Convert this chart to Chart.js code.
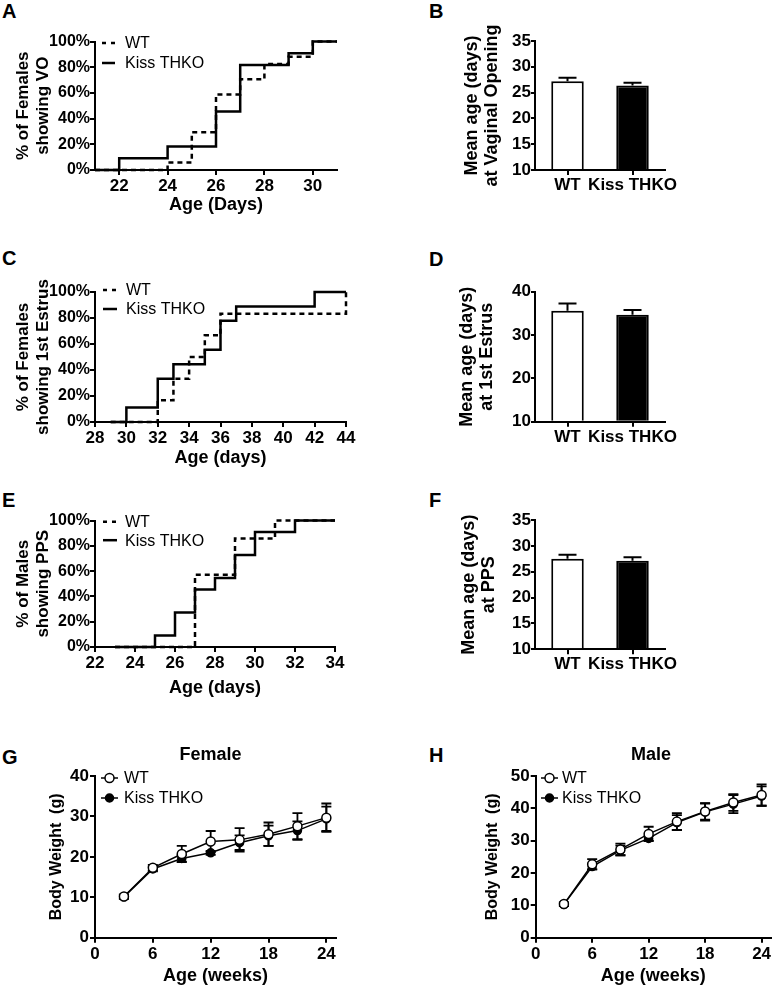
<!DOCTYPE html>
<html><head><meta charset="utf-8">
<script src="https://cdn.jsdelivr.net/npm/chart.js@4"></script>
<style>
html,body{margin:0;padding:0;background:#fff;width:777px;height:987px;overflow:hidden;position:relative;}
canvas{position:absolute;left:0;top:0;}
.lt{position:absolute;font:bold 20px 'Liberation Sans',Arial,sans-serif;line-height:20px;color:#000;}
</style></head><body>
<div class="lt" style="left:2px;top:1px">A</div>
<div class="lt" style="left:429px;top:1px">B</div>
<div class="lt" style="left:2px;top:248px">C</div>
<div class="lt" style="left:429px;top:249px">D</div>
<div class="lt" style="left:2px;top:490px">E</div>
<div class="lt" style="left:429px;top:490px">F</div>
<div class="lt" style="left:2px;top:747px">G</div>
<div class="lt" style="left:429px;top:745px">H</div>
<canvas id="cA" width="777" height="987"></canvas>
<canvas id="cB" width="777" height="987"></canvas>
<canvas id="cC" width="777" height="987"></canvas>
<canvas id="cD" width="777" height="987"></canvas>
<canvas id="cE" width="777" height="987"></canvas>
<canvas id="cF" width="777" height="987"></canvas>
<canvas id="cG" width="777" height="987"></canvas>
<canvas id="cH" width="777" height="987"></canvas>
<script>
// ---------------- DATA ----------------
const groups = ['WT', 'Kiss THKO'];
const pctTicks = [0, 20, 40, 60, 80, 100];

// A: vaginal opening (cumulative %)
const voWTDays = [21, 24, 25, 26, 27, 28, 29, 30, 31];
const voWTPct  = [0, 5.9, 29.4, 58.8, 70.6, 82.4, 88.2, 100, 100];
const voKODays = [21, 22, 24, 26, 27, 29, 30, 31];
const voKOPct  = [0, 9.1, 18.2, 45.5, 81.8, 90.9, 100, 100];
const voXTicks = [22, 24, 26, 28, 30];

// C: first estrus (cumulative %)
const esWTDays = [29, 32, 33, 34, 35, 36, 44];
const esWTPct  = [0, 16.7, 33.3, 50, 66.7, 83.3, 100];
const esKODays = [29, 30, 32, 33, 35, 36, 37, 42, 44];
const esKOPct  = [0, 11.1, 33.3, 44.4, 55.6, 77.8, 88.9, 100, 100];
const esXTicks = [28, 30, 32, 34, 36, 38, 40, 42, 44];

// E: preputial separation (cumulative %)
const ppsWTDays = [23, 27, 29, 31, 34];
const ppsWTPct  = [0, 57.1, 85.7, 100, 100];
const ppsKODays = [23, 25, 26, 27, 28, 29, 30, 32, 34];
const ppsKOPct  = [0, 9.1, 27.3, 45.5, 54.5, 72.7, 90.9, 100, 100];
const ppsXTicks = [22, 24, 26, 28, 30, 32, 34];

// B, D, F: mean age (days) and SEM
const voMean = [27.2, 26.4];
const voSem  = [0.7, 0.5];
const voYTicks = [10, 15, 20, 25, 30, 35];
const esMean = [35.6, 34.7];
const esSem  = [1.7, 1.1];
const esYTicks = [10, 20, 30, 40];
const ppsMean = [27.5, 27.1];
const ppsSem  = [0.8, 0.7];
const ppsYTicks = [10, 15, 20, 25, 30, 35];

// G, H: body weight (g) over weeks
const weeks = [3, 6, 9, 12, 15, 18, 21, 24];
const weekTicks = [0, 6, 12, 18, 24];
const femWT    = [10.2, 17.3, 20.7, 23.8, 24.2, 25.6, 27.6, 29.7];
const femWTErr = [0.5, 0.7, 2.0, 2.6, 2.9, 2.9, 3.2, 3.5];
const femKO    = [10.1, 17.0, 19.6, 21.0, 23.5, 25.2, 26.5, 29.4];
const femKOErr = [0.5, 0.6, 0.8, 0.5, 1.8, 2.5, 2.3, 3.0];
const femYTicks = [0, 10, 20, 30, 40];
const malWT    = [10.4, 22.7, 27.3, 32.1, 35.9, 39.0, 41.8, 44.1];
const malWTErr = [0.5, 1.6, 1.8, 2.2, 2.6, 2.5, 2.6, 3.3];
const malKO    = [10.3, 22.0, 27.0, 30.7, 35.6, 38.9, 41.3, 43.8];
const malKOErr = [0.5, 0.9, 1.5, 0.7, 2.3, 2.7, 2.8, 3.0];
const malYTicks = [0, 10, 20, 30, 40, 50];

// ---------------- SETUP ----------------
const FONT = "'Liberation Sans', Arial, sans-serif";
Chart.defaults.font.family = FONT;
Chart.defaults.font.weight = 'bold';
Chart.defaults.font.size = 16;
Chart.defaults.color = '#000';

const W = 777, H = 987;
function pad(g) {
  return { left: g.L - g.yW, top: g.T, right: W - g.R, bottom: H - g.B - g.xH };
}
function fixW(w) { return s => { s.width = w; s.paddingTop = 0; s.paddingBottom = 0; s.paddingLeft = 0; s.paddingRight = 0; }; }
function fixH(h) { return s => { s.height = h; s.paddingTop = 0; s.paddingBottom = 0; s.paddingLeft = 0; s.paddingRight = 0; }; }
function setTicks(arr) { return s => { s.ticks = arr.map(v => ({ value: v })); }; }
function pts(xs, ys) { return xs.map((x, i) => ({ x: x, y: ys[i] })); }

const axisGrid = { drawOnChartArea: false, tickLength: 5, color: '#000', lineWidth: 2 };
const axisBorder = { color: '#000', width: 2 };

// error bars
function drawErr(chart) {
  const ctx = chart.ctx, ys = chart.scales.y;
  chart.data.datasets.forEach((ds, i) => {
    if (!ds.errors) return;
    const meta = chart.getDatasetMeta(i);
    ctx.save();
    ctx.strokeStyle = '#000';
    ctx.lineWidth = ds.errWidth || 1.8;
    ctx.setLineDash([]);
    meta.data.forEach((el, j) => {
      const raw = ds.data[j];
      const v = typeof raw === 'object' ? raw.y : raw;
      const e = ds.errors[j];
      const x = el.x;
      const yT = ys.getPixelForValue(v + e);
      const yB = ds.errUpOnly ? ys.getPixelForValue(v) : ys.getPixelForValue(v - e);
      const c = ds.capHalf || 5;
      ctx.beginPath();
      ctx.moveTo(x, yT); ctx.lineTo(x, yB);
      ctx.moveTo(x - c, yT); ctx.lineTo(x + c, yT);
      if (!ds.errUpOnly) { ctx.moveTo(x - c, yB); ctx.lineTo(x + c, yB); }
      ctx.stroke();
    });
    ctx.restore();
  });
}
const errPlugin = {
  id: 'errBars',
  beforeDatasetsDraw(chart) { if (chart.config.type === 'line') drawErr(chart); },
  afterDatasetsDraw(chart) { if (chart.config.type === 'bar') drawErr(chart); }
};

// legend inside plot
const legendPlugin = {
  id: 'inLegend',
  afterDraw(chart, args, o) {
    if (!o || !o.display) return;
    const ctx = chart.ctx;
    chart.data.datasets.forEach((ds, i) => {
      const y = o.y + i * o.dy;
      ctx.save();
      ctx.strokeStyle = '#000';
      ctx.lineWidth = o.lw || 2.5;
      ctx.setLineDash(o.dashes && o.dashes[i] ? o.dashes[i] : []);
      ctx.beginPath(); ctx.moveTo(o.x, y); ctx.lineTo(o.x + o.w, y); ctx.stroke();
      ctx.setLineDash([]);
      if (ds.pointRadius > 0) {
        ctx.beginPath();
        ctx.arc(o.x + o.w / 2, y, ds.pointRadius, 0, Math.PI * 2);
        ctx.fillStyle = ds.pointBackgroundColor;
        ctx.fill();
        ctx.lineWidth = ds.pointBorderWidth;
        ctx.stroke();
      }
      ctx.font = "normal 16px " + FONT;
      ctx.fillStyle = '#000';
      ctx.textBaseline = 'middle';
      ctx.textAlign = 'left';
      ctx.fillText(ds.label, o.tx, y + 1);
      ctx.restore();
    });
  }
};

// panel title
const titlePlugin = {
  id: 'panelTitle',
  afterDraw(chart, args, o) {
    if (!o || !o.text) return;
    const ctx = chart.ctx;
    ctx.save();
    ctx.font = "bold 18px " + FONT;
    ctx.fillStyle = '#000';
    ctx.textAlign = 'center';
    ctx.textBaseline = 'middle';
    ctx.fillText(o.text, o.x, o.y);
    ctx.restore();
  }
};

const basePlugins = [errPlugin, legendPlugin, titlePlugin];

function survChart(id, g, wD, wP, kD, kP, xMin, xMax, xTicks, xTitle, yTitle, leg) {
  new Chart(document.getElementById(id), {
    type: 'line',
    data: {
      datasets: [
        { label: groups[0], data: pts(wD, wP), stepped: 'before', borderColor: '#000', borderWidth: 2.5,
          borderDash: [5, 4], pointRadius: 0, order: 1, fill: false, clip: false },
        { label: groups[1], data: pts(kD, kP), stepped: 'before', borderColor: '#000', borderWidth: 2.5,
          pointRadius: 0, order: 0, fill: false, clip: false }
      ]
    },
    options: {
      responsive: false, animation: false, devicePixelRatio: 1,
      layout: { padding: pad(g) },
      plugins: { legend: { display: false }, tooltip: { enabled: false },
        inLegend: Object.assign({ display: true, dashes: [[4, 5], null] }, leg) },
      scales: {
        x: { type: 'linear', min: xMin, max: xMax, afterBuildTicks: setTicks(xTicks), afterFit: fixH(g.xH),
          ticks: { font: { size: 17 }, padding: 1, maxRotation: 0, autoSkip: false },
          grid: axisGrid, border: axisBorder,
          title: { display: true, text: xTitle, font: { size: 18 }, padding: 0 } },
        y: { type: 'linear', min: 0, max: 100, afterBuildTicks: setTicks(pctTicks), afterFit: fixW(g.yW),
          ticks: { callback: v => v + '%', padding: 0 },
          grid: axisGrid, border: axisBorder,
          title: { display: true, text: yTitle, font: { size: 17, lineHeight: 1.2 }, padding: 0 } }
      }
    },
    plugins: basePlugins
  });
}

function barChart(id, g, means, sems, yMin, yMax, yTicks, yTitle) {
  new Chart(document.getElementById(id), {
    type: 'bar',
    data: {
      labels: groups,
      datasets: [{ data: means, errors: sems, errUpOnly: true, capHalf: 9, errWidth: 2,
        backgroundColor: ['#ffffff', '#000000'], borderColor: '#000', borderWidth: 2,
        barPercentage: 0.5, categoryPercentage: 1, base: yMin }]
    },
    options: {
      responsive: false, animation: false, devicePixelRatio: 1,
      layout: { padding: pad(g) },
      plugins: { legend: { display: false }, tooltip: { enabled: false } },
      scales: {
        x: { type: 'category', offset: true, afterFit: fixH(g.xH),
          ticks: { font: { size: 17 }, padding: 0, maxRotation: 0, autoSkip: false },
          grid: Object.assign({ offset: false }, axisGrid), border: axisBorder },
        y: { type: 'linear', min: yMin, max: yMax, afterBuildTicks: setTicks(yTicks), afterFit: fixW(g.yW),
          ticks: { padding: 0, font: { size: 17 } },
          grid: Object.assign({}, axisGrid, { tickLength: 4 }), border: axisBorder,
          title: { display: true, text: yTitle, font: { size: 18, lineHeight: 1.12 }, padding: 0 } }
      }
    },
    plugins: basePlugins
  });
}

function weightChart(id, g, wt, wtE, ko, koE, yMax, yTicks, title, leg) {
  new Chart(document.getElementById(id), {
    type: 'line',
    data: {
      datasets: [
        { label: groups[0], data: pts(weeks, wt), errors: wtE, capHalf: 5, errWidth: 1.8,
          borderColor: '#000', borderWidth: 1.5, pointRadius: 4.5, pointBackgroundColor: '#ffffff',
          pointBorderColor: '#000', pointBorderWidth: 1.5, order: 0, fill: false, clip: false },
        { label: groups[1], data: pts(weeks, ko), errors: koE, capHalf: 5, errWidth: 1.8,
          borderColor: '#000', borderWidth: 1.5, pointRadius: 4, pointBackgroundColor: '#000000',
          pointBorderColor: '#000', pointBorderWidth: 1.5, order: 1, fill: false, clip: false }
      ]
    },
    options: {
      responsive: false, animation: false, devicePixelRatio: 1,
      layout: { padding: pad(g) },
      plugins: { legend: { display: false }, tooltip: { enabled: false },
        inLegend: Object.assign({ display: true, lw: 1.5 }, leg),
        panelTitle: title },
      scales: {
        x: { type: 'linear', min: 0, max: 25, afterBuildTicks: setTicks(weekTicks), afterFit: fixH(g.xH),
          ticks: { font: { size: 17 }, padding: 1, maxRotation: 0, autoSkip: false },
          grid: axisGrid, border: axisBorder,
          title: { display: true, text: 'Age (weeks)', font: { size: 18 }, padding: 0 } },
        y: { type: 'linear', min: 0, max: yMax, afterBuildTicks: setTicks(yTicks), afterFit: fixW(g.yW),
          ticks: { font: { size: 17 }, padding: 1 },
          grid: axisGrid, border: axisBorder,
          title: { display: true, text: 'Body Weight  (g)', font: { size: 16, lineHeight: 1.2 }, padding: 0 } }
      }
    },
    plugins: basePlugins
  });
}

// ---------------- CHARTS ----------------
survChart('cA', { L: 95, R: 337, T: 41.5, B: 170, yW: 82.2, xH: 45.6 },
  voWTDays, voWTPct, voKODays, voKOPct, 21, 31, voXTicks, 'Age (Days)',
  ['% of Females', 'showing VO'], { x: 102, w: 13, y: 43, dy: 20, tx: 125 });

survChart('cC', { L: 95, R: 346, T: 292, B: 422, yW: 82.2, xH: 47.3 },
  esWTDays, esWTPct, esKODays, esKOPct, 28, 44, esXTicks, 'Age (days)',
  ['% of Females', 'showing 1st Estrus'], { x: 103, w: 14, y: 290, dy: 19, tx: 126 });

survChart('cE', { L: 95, R: 335, T: 520.5, B: 647, yW: 82.2, xH: 51.8 },
  ppsWTDays, ppsWTPct, ppsKODays, ppsKOPct, 22, 34, ppsXTicks, 'Age (days)',
  ['% of Males', 'showing PPS'], { x: 103, w: 14, y: 521.7, dy: 18.5, tx: 125 });

barChart('cB', { L: 535, R: 665, T: 41, B: 170, yW: 73.4, xH: 30 },
  voMean, voSem, 10, 35, voYTicks, ['Mean age (days)', 'at Vaginal Opening']);
barChart('cD', { L: 535, R: 665, T: 291.7, B: 421.7, yW: 78, xH: 30 },
  esMean, esSem, 10, 40, esYTicks, ['Mean age (days)', 'at 1st Estrus']);
barChart('cF', { L: 535, R: 665, T: 520, B: 649.3, yW: 76, xH: 30 },
  ppsMean, ppsSem, 10, 35, ppsYTicks, ['Mean age (days)', 'at PPS']);

weightChart('cG', { L: 95, R: 336, T: 776, B: 937.7, yW: 47.6, xH: 49.6 },
  femWT, femWTErr, femKO, femKOErr, 40, femYTicks,
  { text: 'Female', x: 210.5, y: 755.5 }, { x: 101, w: 17, y: 778, dy: 20, tx: 124 });
weightChart('cH', { L: 535.7, R: 775.7, T: 776, B: 937.7, yW: 52.3, xH: 49.6 },
  malWT, malWTErr, malKO, malKOErr, 50, malYTicks,
  { text: 'Male', x: 651, y: 755.5 }, { x: 541, w: 17, y: 778, dy: 20, tx: 562 });
</script>
</body></html>
